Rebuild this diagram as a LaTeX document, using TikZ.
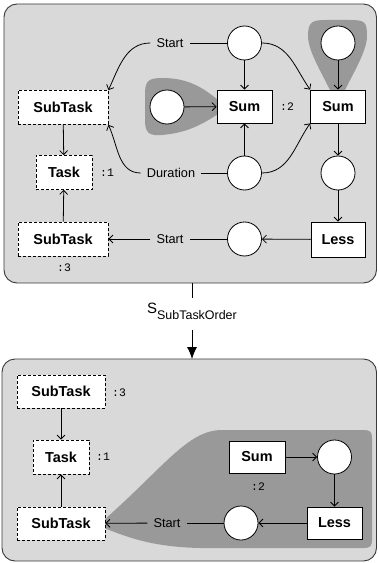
\documentclass[tikz,border=0pt]{standalone}
\usepackage{fontspec}
\setmainfont{Liberation Sans}
\setmonofont{Liberation Mono}
\usetikzlibrary{arrows.meta}
\definecolor{panelbg}{HTML}{D9D9D9}
\definecolor{blob}{HTML}{999999}
\definecolor{panelline}{HTML}{3A3A3A}
\tikzset{
  box/.style={draw=black, fill=white, line width=0.8bp, inner sep=0pt, minimum height=34bp,
    font=\fontsize{14.5}{16}\selectfont\bfseries},
  dbox/.style={box, dash pattern=on 3bp off 2bp},
  place/.style={circle, draw=black, fill=white, line width=0.8bp, minimum size=34bp, inner sep=0pt},
  lbl/.style={inner xsep=6bp, inner ysep=1bp, font=\fontsize{12.8}{14}\selectfont},
  ann/.style={inner sep=0pt, font=\fontsize{11.5}{12}\ttfamily},
  conn/.style={line width=0.8bp, draw=black},
  arr/.style={conn, -{Straight Barb[length=4bp,width=8bp]}},
  panel/.style={draw=panelline, fill=panelbg, line width=0.9bp, rounded corners=13bp},
  shade/.style={fill=blob, draw=none}
}
\begin{document}
\begin{tikzpicture}[x=1bp,y=-1bp]
\useasboundingbox (0,0) rectangle (378,563);
% panels
\path[panel] (4,4) rectangle (376.5,283);
\path[panel] (2,359) rectangle (376.5,561);
% shaded blobs (top)
\path[shade] (218,100) .. controls (200,85) and (185,78) .. (162,78)
  .. controls (147,78) and (145,82) .. (145,95) -- (145,120)
  .. controls (145,133) and (149,136) .. (162,135)
  .. controls (185,133) and (200,126) .. (218,114) -- cycle;
\path[shade] (330,90) .. controls (320,70) and (308,50) .. (308,36)
  .. controls (308,22) and (312,20) .. (326,20) -- (350,20)
  .. controls (365,20) and (367,22) .. (367,36)
  .. controls (367,50) and (355,70) .. (345,90) -- cycle;
% shaded region (bottom)
\path[shade] (104,520) .. controls (165,466) and (188,430) .. (222,430) -- (364,430)
  .. controls (370,430) and (372,432) .. (372,438) -- (372,540)
  .. controls (372,546) and (370,548) .. (364,548) -- (200,548)
  .. controls (150,547) and (125,536) .. (104,528) -- cycle;

% ---------- top panel ----------
\node[dbox, minimum width=90bp] (tSubA) at (63,107.5) {SubTask};
\node[dbox, minimum width=56bp] (tTask) at (64,172.5) {Task};
\node[dbox, minimum width=90bp] (tSubB) at (63,239) {SubTask};
\node[box, minimum width=55bp, minimum height=33bp] (tSum1) at (244.5,106.5) {Sum};
\node[box, minimum width=55bp, minimum height=33bp] (tSum2) at (338,106.5) {Sum};
\node[box, minimum width=54bp, minimum height=35bp] (tLess) at (338,239.5) {Less};
\node[place] (cA) at (244.5,43) {};
\node[place] (cB) at (338,43) {};
\node[place] (cC) at (167,107) {};
\node[place] (cD) at (244.5,173) {};
\node[place] (cE) at (338,173) {};
\node[place] (cF) at (244.5,239) {};
\node[lbl] (lStartA) at (170,43) {Start};
\node[lbl] (lDur) at (171,173) {Duration};
\node[lbl] (lStartB) at (170,239) {Start};
\node[ann] (aT1) at (107,172.5) {:1};
\node[ann] (aT2) at (287,107) {:2};
\node[ann] (aT3) at (64,268) {:3};

\draw[conn] (cA) -- (lStartA);
\draw[arr] (lStartA.west) to[out=180,in=65] (tSubA.north east);
\draw[conn] (cD) -- (lDur);
\draw[arr] (lDur.west) to[out=180,in=-65] (tSubA.south east);
\draw[arr] (cA) -- (tSum1);
\draw[arr] (cD) -- (tSum1);
\draw[arr] (cC) -- (tSum1);
\draw[arr] (cA.east) to[out=0,in=125] (tSum2.north west);
\draw[arr] (cD.east) to[out=0,in=-125] (tSum2.south west);
\draw[arr] (cB) -- (tSum2);
\draw[arr] (tSum2) -- (cE);
\draw[arr] (cE) -- (tLess);
\draw[arr] (tLess) -- (cF);
\draw[conn] (cF) -- (lStartB);
\draw[arr] (lStartB) -- (tSubB);
\draw[arr] (tSubA) -- (tTask);
\draw[arr] (tSubB) -- (tTask);

% ---------- transition ----------
\coordinate (tr0) at (192,283);
\coordinate (tr1) at (192,298);
\coordinate (tr2) at (192,330);
\coordinate (tr3) at (192,359);
\node[inner sep=0pt] (trl) at (192,311) {\fontsize{15}{15}\selectfont S\raisebox{-6bp}{\fontsize{12.5}{13}\selectfont SubTaskOrder}};
\draw[conn] (tr0) -- (tr1);
\draw[conn, -{Latex[length=12bp,width=10bp]}] (tr2) -- (tr3);

% ---------- bottom panel ----------
\node[dbox, minimum width=88bp, minimum height=33bp] (bSubA) at (61,391.5) {SubTask};
\node[dbox, minimum width=56bp] (bTask) at (61,457) {Task};
\node[dbox, minimum width=88bp, minimum height=33bp] (bSubB) at (61,523.5) {SubTask};
\node[box, minimum width=56bp, minimum height=32bp] (bSum) at (257,457) {Sum};
\node[box, minimum width=55bp, minimum height=32bp] (bLess) at (334.5,523) {Less};
\node[place] (cG) at (334.5,457) {};
\node[place] (cH) at (241,523) {};
\node[lbl] (lStartC) at (167,523) {Start};
\node[ann] (aB3) at (119,393) {:3};
\node[ann] (aB1) at (103,457) {:1};
\node[ann] (aB2) at (258,487) {:2};

\draw[arr] (bSubA) -- (bTask);
\draw[arr] (bSubB) -- (bTask);
\draw[arr] (bSum) -- (cG);
\draw[arr] (cG) -- (bLess);
\draw[arr] (bLess) -- (cH);
\draw[conn] (cH) -- (lStartC);
\draw[arr] (lStartC) -- (bSubB);
\end{tikzpicture}
\end{document}
